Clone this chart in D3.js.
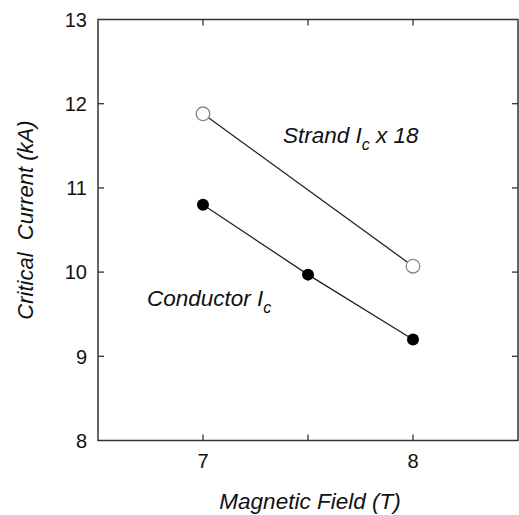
<!DOCTYPE html>
<html>
<head>
<meta charset="utf-8">
<script src="https://cdn.jsdelivr.net/npm/d3@7"></script>
<style>
  body { margin: 0; background: #fff; }
  text { font-family: "Liberation Sans", Arial, sans-serif; fill: #111; }
</style>
</head>
<body>
<div id="chart"></div>
<script>
// data
const fieldStrand = [7, 8];
const strandIc18 = [11.88, 10.07];
const fieldConductor = [7, 7.5, 8];
const conductorIc = [10.8, 9.97, 9.2];
const xTicks = [7, 8];
const xMinorTicks = [7, 7.5, 8];
const yTicks = [8, 9, 10, 11, 12, 13];

const width = 519, height = 515;
const margin = { left: 98, right: 1, top: 19.5, bottom: 74.5 };

const svg = d3.select('#chart').append('svg')
    .attr('width', width)
    .attr('height', height);

const x = d3.scaleLinear().domain([6.5, 8.5]).range([margin.left, width - margin.right]);
const y = d3.scaleLinear().domain([8, 13]).range([height - margin.bottom, margin.top]);

const axisColor = '#333';

// frame
svg.append('rect')
    .attr('x', x(6.5)).attr('y', y(13))
    .attr('width', x(8.5) - x(6.5)).attr('height', y(8) - y(13))
    .attr('fill', 'none').attr('stroke', axisColor).attr('stroke-width', 1.5);

// inward ticks on all four sides
const tickLen = 6;
const g = svg.append('g').attr('stroke', axisColor).attr('stroke-width', 1.3);
xMinorTicks.forEach(v => {
    g.append('line').attr('x1', x(v)).attr('x2', x(v)).attr('y1', y(8)).attr('y2', y(8) - tickLen);
    g.append('line').attr('x1', x(v)).attr('x2', x(v)).attr('y1', y(13)).attr('y2', y(13) + tickLen);
});
yTicks.slice(1, -1).forEach(v => {
    g.append('line').attr('x1', x(6.5)).attr('x2', x(6.5) + tickLen).attr('y1', y(v)).attr('y2', y(v));
    g.append('line').attr('x1', x(8.5)).attr('x2', x(8.5) - tickLen).attr('y1', y(v)).attr('y2', y(v));
});

// tick labels
svg.selectAll('.ylab').data(yTicks).enter().append('text')
    .attr('x', x(6.5) - 11)
    .attr('y', d => y(d))
    .attr('dy', '0.36em')
    .attr('text-anchor', 'end')
    .style('font-size', '20px')
    .text(d => d);

svg.selectAll('.xlab').data(xTicks).enter().append('text')
    .attr('x', d => x(d))
    .attr('y', 468)
    .attr('text-anchor', 'middle')
    .style('font-size', '20px')
    .text(d => d);

// axis titles
svg.append('text')
    .attr('x', 310)
    .attr('y', 509)
    .attr('text-anchor', 'middle')
    .style('font-size', '22.5px')
    .style('font-style', 'italic')
    .text('Magnetic Field (T)');

svg.append('text')
    .attr('transform', 'translate(33, 220) rotate(-90)')
    .attr('text-anchor', 'middle')
    .style('font-size', '22px')
    .style('font-style', 'italic')
    .attr('xml:space', 'preserve')
    .text('Critical  Current (kA)');

// series lines
const line = d3.line().x(d => x(d[0])).y(d => y(d[1]));
const strandPts = fieldStrand.map((f, i) => [f, strandIc18[i]]);
const condPts = fieldConductor.map((f, i) => [f, conductorIc[i]]);

svg.append('path').datum(strandPts).attr('d', line)
    .attr('fill', 'none').attr('stroke', '#222').attr('stroke-width', 1.3);
svg.append('path').datum(condPts).attr('d', line)
    .attr('fill', 'none').attr('stroke', '#222').attr('stroke-width', 1.3);

svg.selectAll('.open').data(strandPts).enter().append('circle')
    .attr('cx', d => x(d[0])).attr('cy', d => y(d[1]))
    .attr('r', 6.8)
    .attr('fill', '#fff').attr('stroke', '#888').attr('stroke-width', 1.3);

svg.selectAll('.filled').data(condPts).enter().append('circle')
    .attr('cx', d => x(d[0])).attr('cy', d => y(d[1]))
    .attr('r', 6)
    .attr('fill', '#000');

// in-plot labels
const strandLabel = svg.append('text')
    .attr('x', 283).attr('y', 143)
    .style('font-size', '22.5px')
    .style('font-style', 'italic');
strandLabel.append('tspan').text('Strand I');
strandLabel.append('tspan').attr('dy', 7).style('font-size', '16px').text('c');
strandLabel.append('tspan').attr('dy', -7).text(' x 18');

const condLabel = svg.append('text')
    .attr('x', 147).attr('y', 306)
    .style('font-size', '22.5px')
    .style('font-style', 'italic');
condLabel.append('tspan').text('Conductor I');
condLabel.append('tspan').attr('dy', 7).style('font-size', '16px').text('c');
</script>
</body>
</html>
